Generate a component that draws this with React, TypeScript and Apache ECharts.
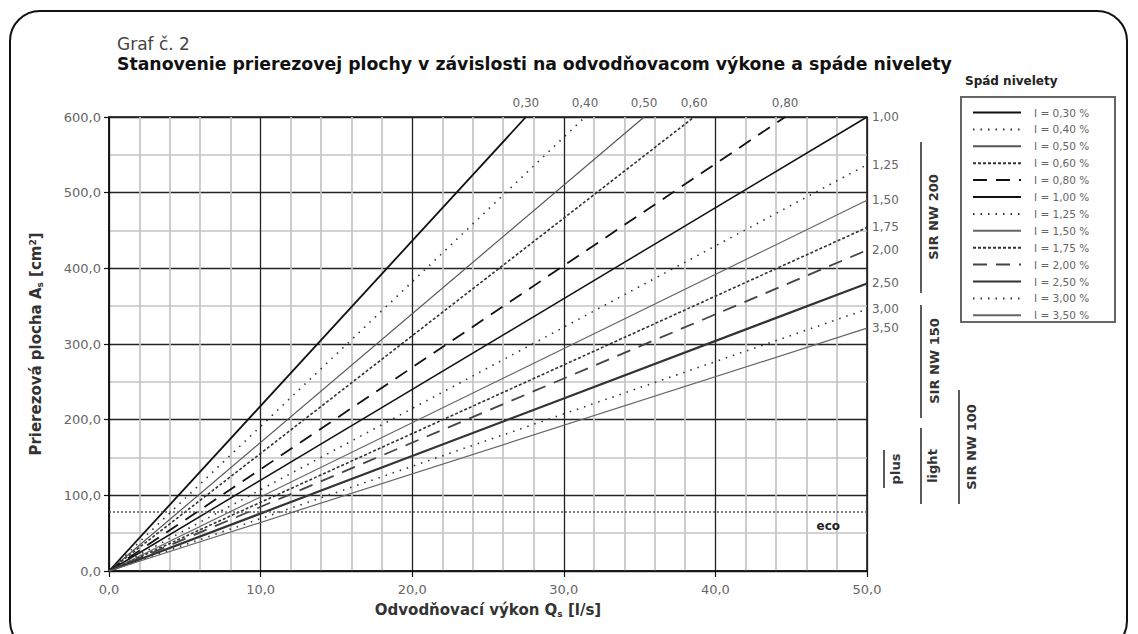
import React, { useEffect, useRef } from "react";
import * as echarts from "echarts";

// Spád nivelety (slope, %)
const SLOPES = ["0,30", "0,40", "0,50", "0,60", "0,80", "1,00", "1,25", "1,50", "1,75", "2,00", "2,50", "3,00", "3,50"];
// End point of each line (Q in l/s, A in cm²); every line starts at 0,0
const END_Q = [27.5, 31.4, 35.3, 38.6, 44.6, 50, 50, 50, 50, 50, 50, 50, 50];
const END_A = [600, 600, 600, 600, 600, 600, 537, 490, 454, 424, 380, 346, 321];
// eco line level (cm²)
const ECO_A = 78;

// line styles (style only, not data)
const STYLES: { color: string; width: number; type: any }[] = [
  { color: "#111", width: 1.8, type: "solid" },
  { color: "#333", width: 1.6, type: [1.5, 6] },
  { color: "#555", width: 1.2, type: "solid" },
  { color: "#333", width: 1.6, type: [3, 2] },
  { color: "#111", width: 1.8, type: [14, 9] },
  { color: "#111", width: 1.5, type: "solid" },
  { color: "#333", width: 1.6, type: [1.5, 6] },
  { color: "#666", width: 1.2, type: "solid" },
  { color: "#333", width: 1.6, type: [3, 2] },
  { color: "#444", width: 1.8, type: [14, 9] },
  { color: "#333", width: 2.2, type: "solid" },
  { color: "#333", width: 1.6, type: [1.5, 6] },
  { color: "#666", width: 1.2, type: "solid" },
];

const FONT = "DejaVu Sans, Verdana, sans-serif";
const fmt = (v: number) => v.toFixed(1).replace(".", ",");

export default function App() {
  const ref = useRef<HTMLDivElement>(null);
  useEffect(() => {
    if (!ref.current) return;
    const chart = echarts.init(ref.current, undefined, { renderer: "svg" });
    const names = SLOPES.map((s) => `I = ${s} %`);
    const series: any[] = SLOPES.map((s, i) => {
      const top = END_A[i] >= 600 && END_Q[i] < 50;
      return {
        name: names[i],
        type: "line",
        symbol: "circle",
        symbolSize: 0.1,
        showSymbol: true,
        itemStyle: { color: "transparent", borderWidth: 0 },
        lineStyle: { color: STYLES[i].color, width: STYLES[i].width, type: STYLES[i].type },
        data: [
          [0, 0],
          {
            value: [END_Q[i], END_A[i]],
            label: {
              show: true,
              position: top ? "top" : "right",
              distance: top ? 8 : 5,
              formatter: s,
              color: "#666",
              fontSize: 12,
              fontFamily: FONT,
            },
          },
        ],
        z: 3,
      };
    });
    series.push({
      name: "eco",
      type: "line",
      symbol: "none",
      data: [],
      markLine: {
        silent: true,
        symbol: "none",
        lineStyle: { color: "#555", width: 1.6, type: [2, 2] },
        label: {
          show: true,
          position: "insideEndBottom",
          formatter: "eco",
          color: "#222",
          fontWeight: "bold",
          fontSize: 12,
          fontFamily: FONT,
          distance: [27, 8],
        },
        data: [{ yAxis: ECO_A }],
      },
    });

    const axisLabel = { color: "#666", fontSize: 13, fontFamily: FONT, formatter: fmt };
    const nameStyle = {
      color: "#333",
      fontSize: 15,
      fontWeight: "bold",
      fontFamily: FONT,
      rich: {
        sub: { fontSize: 9, fontWeight: "bold", fontFamily: FONT, color: "#333", verticalAlign: "bottom", padding: [7, 0, 0, 0] },
        sup: { fontSize: 9, fontWeight: "bold", fontFamily: FONT, color: "#333", verticalAlign: "top", padding: [0, 0, 7, 0] },
      },
    };
    chart.setOption({
      animation: false,
      backgroundColor: "#fff",
      grid: { left: 109, right: 271, top: 117, bottom: 63, show: true, borderColor: "#111", borderWidth: 1.5 },
      legend: {
        data: names,
        orient: "vertical",
        left: 963,
        top: 107,
        itemWidth: 48,
        itemHeight: 10,
        itemGap: 5.9,
        padding: [0, 0, 0, 9],
        textStyle: { color: "#666", fontSize: 10.5, fontFamily: FONT, padding: [0, 0, 0, 8] },
        itemStyle: { color: "transparent", borderWidth: 0 },
        selectedMode: false,
      },
      xAxis: {
        type: "value",
        min: 0,
        max: 50,
        interval: 10,
        name: "Odvodňovací výkon Q{sub|s} [l/s]",
        nameLocation: "middle",
        nameGap: 31,
        nameTextStyle: nameStyle,
        axisLine: { show: true, lineStyle: { color: "#111", width: 1.5 } },
        axisTick: { show: true, length: 6, lineStyle: { color: "#111", width: 1.2 } },
        axisLabel: { ...axisLabel, margin: 12 },
        splitLine: { show: true, lineStyle: { color: "#222", width: 1.3 } },
        minorTick: { show: true, splitNumber: 5, length: 0 },
        minorSplitLine: { show: true, lineStyle: { color: "#c4c4c4", width: 1.7 } },
      },
      yAxis: {
        type: "value",
        min: 0,
        max: 600,
        interval: 100,
        name: "Prierezová plocha A{sub|s} [cm{sup|2}]",
        nameLocation: "middle",
        nameGap: 65,
        nameTextStyle: nameStyle,
        axisLine: { show: true, lineStyle: { color: "#111", width: 1.5 } },
        axisTick: { show: true, length: 5, lineStyle: { color: "#111", width: 1.2 } },
        axisLabel: { ...axisLabel, margin: 8 },
        splitLine: { show: true, lineStyle: { color: "#222", width: 1.3 } },
        minorTick: { show: true, splitNumber: 2, length: 0 },
        minorSplitLine: { show: true, lineStyle: { color: "#c4c4c4", width: 1.7 } },
      },
      graphic: [
        { type: "rect", shape: { x: 10, y: 11, width: 1117, height: 640, r: 30 }, style: { fill: "none", stroke: "#111", lineWidth: 2 }, silent: true },
        { type: "text", x: 117, y: 44, style: { text: "Graf č. 2", fill: "#444", font: `17px ${FONT}`, verticalAlign: "middle" } },
        {
          type: "text",
          x: 117,
          y: 64,
          style: {
            text: "Stanovenie prierezovej plochy v závislosti na odvodňovacom výkone a spáde nivelety",
            fill: "#111",
            font: `bold 17.3px ${FONT}`,
            verticalAlign: "middle",
          },
        },
        { type: "text", x: 965, y: 81, style: { text: "Spád nivelety", fill: "#222", font: `bold 12px ${FONT}`, verticalAlign: "middle" } },
        { type: "rect", shape: { x: 961, y: 97, width: 154, height: 225 }, style: { fill: "none", stroke: "#666", lineWidth: 2 } },
        // right side product ranges
        { type: "line", shape: { x1: 921, y1: 142, x2: 921, y2: 293 }, style: { stroke: "#333", lineWidth: 1.6 } },
        { type: "text", x: 933, y: 217, rotation: Math.PI / 2, style: { text: "SIR NW 200", fill: "#333", font: `bold 13px ${FONT}`, align: "center", verticalAlign: "middle" } },
        { type: "line", shape: { x1: 921, y1: 305, x2: 921, y2: 418 }, style: { stroke: "#333", lineWidth: 1.6 } },
        { type: "text", x: 934, y: 361, rotation: Math.PI / 2, style: { text: "SIR NW 150", fill: "#333", font: `bold 13px ${FONT}`, align: "center", verticalAlign: "middle" } },
        { type: "line", shape: { x1: 884, y1: 450, x2: 884, y2: 488 }, style: { stroke: "#333", lineWidth: 1.6 } },
        { type: "text", x: 895, y: 469, rotation: Math.PI / 2, style: { text: "plus", fill: "#333", font: `bold 13px ${FONT}`, align: "center", verticalAlign: "middle" } },
        { type: "line", shape: { x1: 921, y1: 428, x2: 921, y2: 504 }, style: { stroke: "#333", lineWidth: 1.6 } },
        { type: "text", x: 932, y: 466, rotation: Math.PI / 2, style: { text: "light", fill: "#333", font: `bold 13px ${FONT}`, align: "center", verticalAlign: "middle" } },
        { type: "line", shape: { x1: 959, y1: 390, x2: 959, y2: 504 }, style: { stroke: "#333", lineWidth: 1.6 } },
        { type: "text", x: 971, y: 447, rotation: Math.PI / 2, style: { text: "SIR NW 100", fill: "#333", font: `bold 13px ${FONT}`, align: "center", verticalAlign: "middle" } },
      ],
      series,
    });
    return () => chart.dispose();
  }, []);
  return <div ref={ref} style={{ position: "fixed", left: 0, top: 0, width: 1138, height: 634 }} />;
}
